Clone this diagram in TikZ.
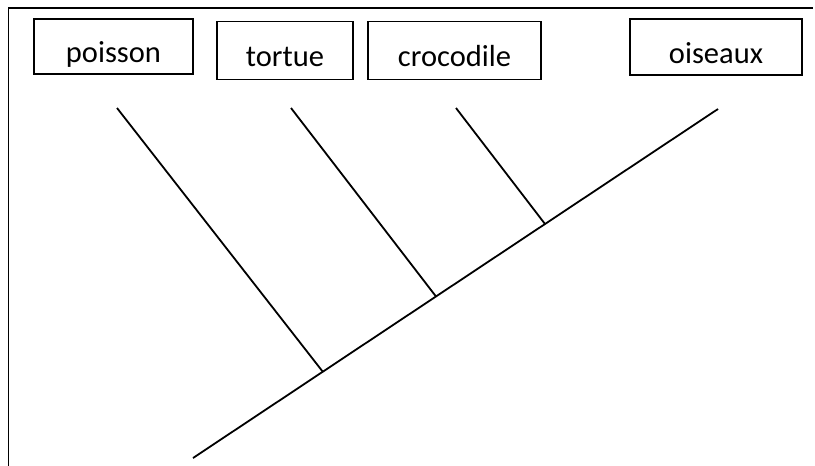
\documentclass[tikz,border=0pt]{standalone}
\usepackage{fontspec}
\setmainfont{Carlito}
\begin{document}
\begin{tikzpicture}[x=1pt,y=-1pt,
  taxon/.style={draw,line width=1.6pt,inner sep=0pt,text height=32pt,text depth=0pt,
    font=\fontsize{30.5}{34}\selectfont},
  branch/.style={line width=1.8pt},
  frame/.style={line width=1.8pt}]
\useasboundingbox (0,0) rectangle (815,466);
% open frame: left and top sides only
\draw[frame] (8.5,466) -- (8.5,8) -- (813,8);
% taxa
\node[taxon,minimum width=159pt,minimum height=55pt] (poisson) at (113.5,46.5) {poisson};
\node[taxon,minimum width=136pt,minimum height=58pt] (tortue) at (285,50.5) {tortue};
\node[taxon,minimum width=173pt,minimum height=58pt] (crocodile) at (454.5,50.5) {crocodile};
\node[taxon,minimum width=172pt,minimum height=56pt] (oiseaux) at (716,47) {oiseaux};
% tree
\coordinate (root) at (193,458);
\coordinate (tip) at (718,109);
\coordinate (tp) at (117,108);
\coordinate (tt) at (291,108);
\coordinate (tc) at (456,108);
\coordinate (jp) at (323,372);
\coordinate (jt) at (436,296.5);
\coordinate (jc) at (545,224);
\draw[branch] (root) -- (tip);
\draw[branch] (tp) -- (jp);
\draw[branch] (tt) -- (jt);
\draw[branch] (tc) -- (jc);
\end{tikzpicture}
\end{document}
